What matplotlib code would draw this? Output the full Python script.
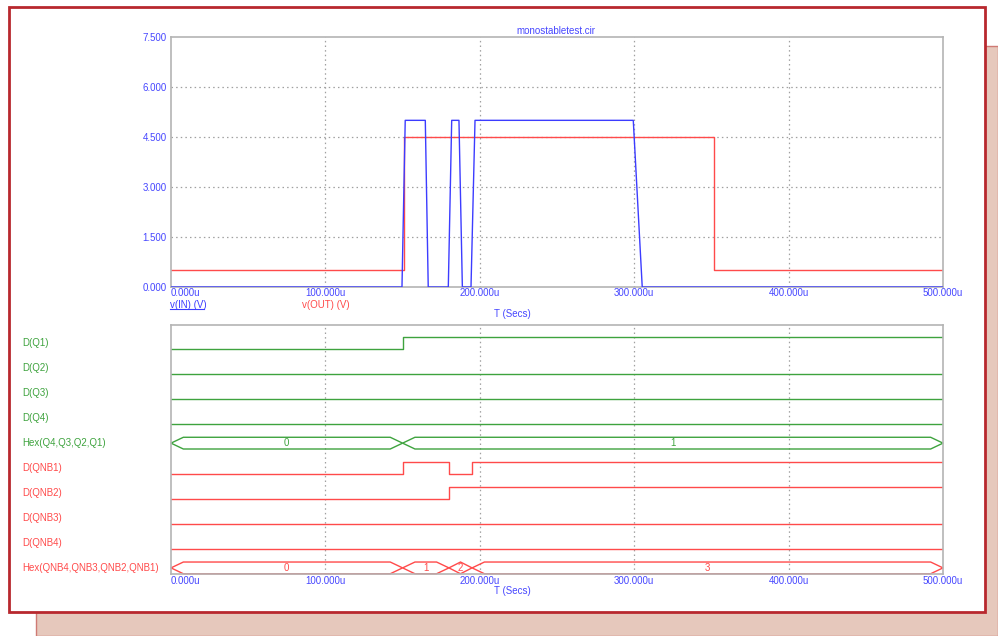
import matplotlib.pyplot as plt
from matplotlib.patches import Rectangle, Polygon
from matplotlib.lines import Line2D
import matplotlib.transforms as mtransforms

plt.rcParams['font.family'] = ['Liberation Sans', 'DejaVu Sans']

BLUE = '#3c3cff'
RED = '#ff4a4a'
GREEN = '#3ea33e'
TXT_BLUE = '#4646ff'
GRID = '#a0a0a0'
SPINE = '#b4b4b4'
FS = 7

# analog traces, time in microseconds
t_in = [0, 149.6, 151.7, 164.7, 166.6, 179.6, 181.8, 186.5, 188.7, 194.3, 196.9, 299.4, 305.2, 500]
v_in = [0, 0, 5.0, 5.0, 0, 0, 5.0, 5.0, 0, 0, 5.0, 5.0, 0, 0]
t_out = [0, 150.9, 150.9, 351.7, 351.7, 500]
v_out = [0.5, 0.5, 4.5, 4.5, 0.5, 0.5]

# digital traces (transition times, levels)
q1_t, q1_v = [0, 150], [0, 1]
q2_t, q2_v = [0], [0]
q3_t, q3_v = [0], [0]
q4_t, q4_v = [0], [0]
hexq_t, hexq_v = [0, 150], ['0', '1']
qnb1_t, qnb1_v = [0, 150, 180, 195], [0, 1, 0, 1]
qnb2_t, qnb2_v = [0, 180], [0, 1]
qnb3_t, qnb3_v = [0], [0]
qnb4_t, qnb4_v = [0], [0]
hexqnb_t, hexqnb_v = [0, 150, 180, 195], ['0', '1', '2', '3']

T_END = 500
x_ticks = [0, 100, 200, 300, 400, 500]
x_labels = ['0.000u', '100.000u', '200.000u', '300.000u', '400.000u', '500.000u']
y_ticks = [0, 1.5, 3.0, 4.5, 6.0, 7.5]
y_labels = ['0.000', '1.500', '3.000', '4.500', '6.000', '7.500']

W, H = 998, 636
fig = plt.figure(figsize=(W / 100, H / 100), dpi=100)

# background decoration
fig.patches.append(Rectangle((36 / W, 0), (W - 36) / W, (H - 46) / H, transform=fig.transFigure,
                             facecolor='#e6c8bc', edgecolor='#cf7a74', lw=1, zorder=-3))
fig.patches.append(Rectangle((8.5 / W, 1 - 612 / H), 976 / W, 605.5 / H, transform=fig.transFigure,
                             facecolor='white', edgecolor='#b8282e', lw=2, zorder=-2))

ax1 = fig.add_axes([171 / W, 1 - 287 / H, 772 / W, 250 / H])
ax2 = fig.add_axes([171 / W, 1 - 574 / H, 772 / W, 249 / H])

DOTS = (0, (1.2, 2.5))

for ax in (ax1, ax2):
    for s in ax.spines.values():
        s.set_color(SPINE)
        s.set_linewidth(1.2)
    ax.set_xlim(0, T_END)
    ax.set_xticks(x_ticks)
    ax.set_xticklabels(x_labels, color=TXT_BLUE, fontsize=FS)
    ax.get_xticklabels()[0].set_ha('left')
    ax.tick_params(length=0)
    for t in x_ticks[1:-1]:
        ax.axvline(t, color=GRID, ls=DOTS, lw=0.9, zorder=0)

# top analog panel
ax1.set_ylim(0, 7.5)
ax1.set_yticks(y_ticks)
ax1.set_yticklabels(y_labels, color=TXT_BLUE, fontsize=FS)
ax1.tick_params(axis='y', pad=3)
ax1.tick_params(axis='x', pad=1)
for v in y_ticks[1:-1]:
    ax1.axhline(v, color=GRID, ls=DOTS, lw=0.9, zorder=0)
ax1.plot(t_out, v_out, color=RED, lw=1, zorder=2)
ax1.plot(t_in, v_in, color=BLUE, lw=1, zorder=3)
ax1.set_title('monostabletest.cir', color=TXT_BLUE, fontsize=FS, pad=2, x=0.498)

fig.text(170 / W, 1 - 305 / H, 'v(IN) (V)', color=BLUE, fontsize=FS, va='center')
fig.add_artist(Line2D([170 / W, 204 / W], [1 - 309 / H, 1 - 309 / H], color=BLUE, lw=0.8))
fig.text(302 / W, 1 - 305 / H, 'v(OUT) (V)', color=RED, fontsize=FS, va='center')
fig.text(512 / W, 1 - 314 / H, 'T (Secs)', color=TXT_BLUE, fontsize=FS, ha='center', va='center')
fig.text(512 / W, 1 - 591 / H, 'T (Secs)', color=TXT_BLUE, fontsize=FS, ha='center', va='center')

# bottom digital panel
ax2.set_ylim(9.98, 0)
ax2.set_yticks([])
ax2.tick_params(axis='x', pad=1.5)
lab_tr = mtransforms.blended_transform_factory(fig.transFigure, ax2.transData)

HI, LO = 0.5, 0.97


def draw_bit(row, times, levels, color, name):
    xs = list(times) + [T_END]
    ys = [row + (HI if v else LO) for v in levels]
    ys = ys + [ys[-1]]
    ax2.plot(xs, ys, color=color, lw=1, drawstyle='steps-post')
    fig.text(22 / W, row + 0.72, name, color=color, fontsize=FS, va='center', transform=lab_tr)


def draw_bus(row, times, vals, color, name):
    top, bot = row + HI, row + LO
    mid = (top + bot) / 2
    ends = list(times[1:]) + [T_END]
    for s, e, v in zip(times, ends, vals):
        dx = min(8, (e - s) / 2)
        ax2.add_patch(Polygon([(s, mid), (s + dx, top), (e - dx, top), (e, mid), (e - dx, bot), (s + dx, bot)],
                              closed=True, fill=False, edgecolor=color, lw=1, clip_on=False))
        ax2.text((s + e) / 2, mid, v, color=color, fontsize=FS, ha='center', va='center')
    fig.text(22 / W, row + 0.72, name, color=color, fontsize=FS, va='center', transform=lab_tr)


draw_bit(0, q1_t, q1_v, GREEN, 'D(Q1)')
draw_bit(1, q2_t, q2_v, GREEN, 'D(Q2)')
draw_bit(2, q3_t, q3_v, GREEN, 'D(Q3)')
draw_bit(3, q4_t, q4_v, GREEN, 'D(Q4)')
draw_bus(4, hexq_t, hexq_v, GREEN, 'Hex(Q4,Q3,Q2,Q1)')
draw_bit(5, qnb1_t, qnb1_v, RED, 'D(QNB1)')
draw_bit(6, qnb2_t, qnb2_v, RED, 'D(QNB2)')
draw_bit(7, qnb3_t, qnb3_v, RED, 'D(QNB3)')
draw_bit(8, qnb4_t, qnb4_v, RED, 'D(QNB4)')
draw_bus(9, hexqnb_t, hexqnb_v, RED, 'Hex(QNB4,QNB3,QNB2,QNB1)')

fig.savefig('out.png', dpi=100)
